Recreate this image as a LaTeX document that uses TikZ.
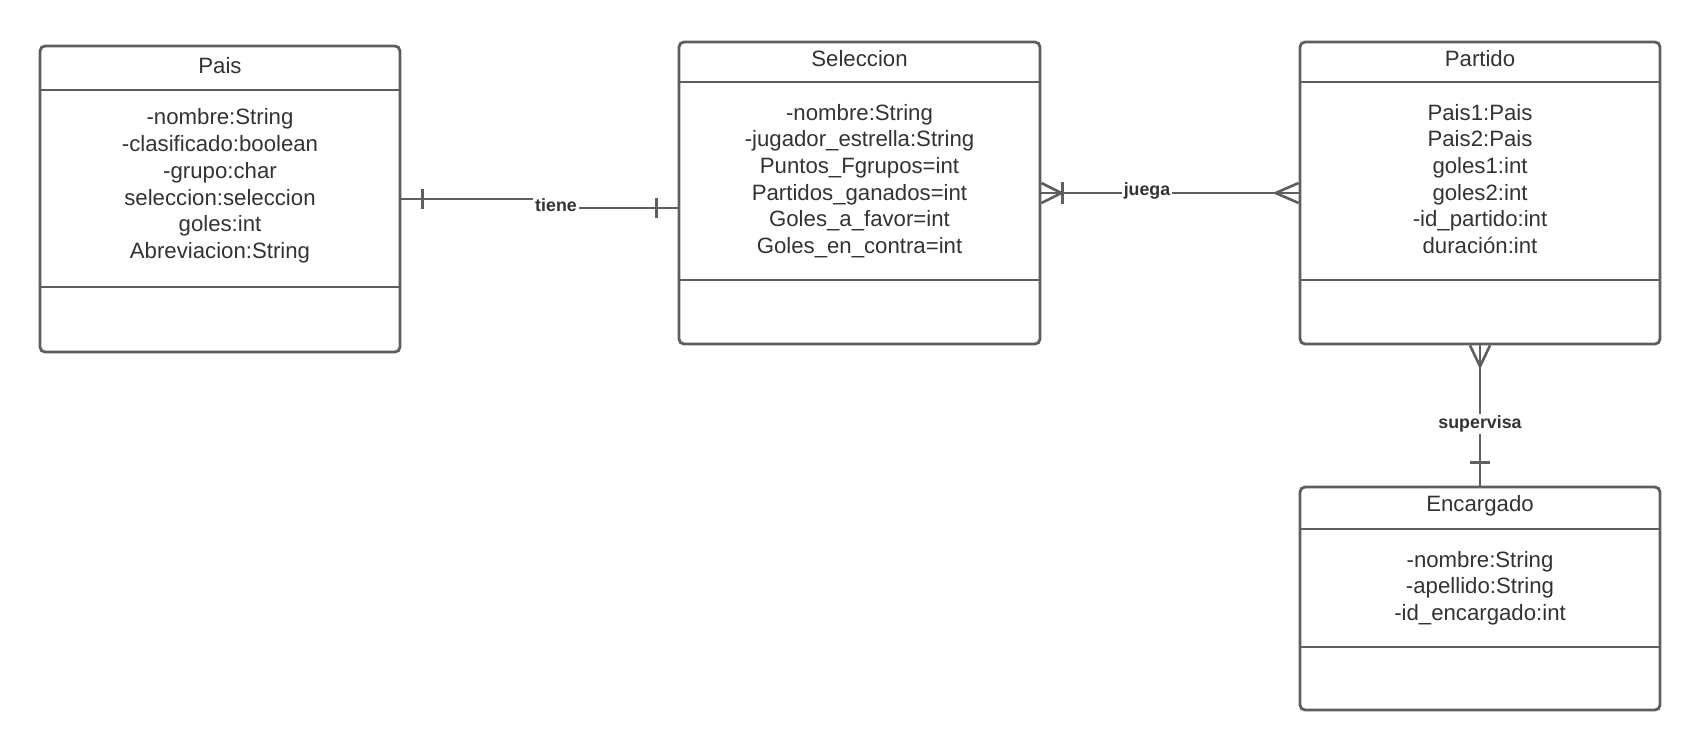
\documentclass[tikz,border=0pt]{standalone}
\usepackage{fontspec}
\setmainfont{Liberation Sans}
\usetikzlibrary{calc}
\definecolor{edge}{HTML}{5E5E5E}
\definecolor{ink}{HTML}{333333}
\begin{document}
\begin{tikzpicture}[x=0.5pt,y=-0.5pt,
  classbox/.style={draw=edge, line width=1.4pt, rounded corners=2.5pt, fill=white,
    inner sep=0pt, minimum width=180pt},
  divider/.style={draw=edge, line width=1.4pt},
  conn/.style={draw=edge, line width=1.3pt},
  titletext/.style={text=ink, font=\fontsize{11.1pt}{13.35pt}\selectfont, inner sep=0pt},
  attrtext/.style={text=ink, font=\fontsize{11.1pt}{13.35pt}\selectfont, align=center, inner sep=0pt},
  rellabel/.style={text=ink, font=\bfseries\fontsize{8.9pt}{10pt}\selectfont, fill=white, inner sep=1pt}]
\useasboundingbox (0,0) rectangle (1700,751);
\fill[white] (0,0) rectangle (1700,751);

% ---- class Pais ----
\node[classbox, minimum height=153pt] (pais) at (220,199) {};
\draw[divider] (pais.west |- 0,90) -- (pais.east |- 0,90);
\draw[divider] (pais.west |- 0,287) -- (pais.east |- 0,287);
\node[titletext] (paisT) at (220,66) {Pais};
\node[attrtext] (paisA) at (220,186) {-nombre:String\\-clasificado:boolean\\-grupo:char\\seleccion:seleccion\\goles:int\\Abreviacion:String};

% ---- class Seleccion ----
\node[classbox, minimum width=180.5pt, minimum height=151pt] (sel) at (859.5,193) {};
\draw[divider] (sel.west |- 0,82) -- (sel.east |- 0,82);
\draw[divider] (sel.west |- 0,280) -- (sel.east |- 0,280);
\node[titletext] (selT) at (859.5,59) {Seleccion};
\node[attrtext] (selA) at (859.5,181) {-nombre:String\\-jugador\_estrella:String\\Puntos\_Fgrupos=int\\Partidos\_ganados=int\\Goles\_a\_favor=int\\Goles\_en\_contra=int};

% ---- class Partido ----
\node[classbox, minimum height=151pt] (par) at (1480,193) {};
\draw[divider] (par.west |- 0,82) -- (par.east |- 0,82);
\draw[divider] (par.west |- 0,280) -- (par.east |- 0,280);
\node[titletext] (parT) at (1480,59) {Partido};
\node[attrtext] (parA) at (1480,179) {Pais1:Pais\\Pais2:Pais\\goles1:int\\goles2:int\\-id\_partido:int\\duración:int};

% ---- class Encargado ----
\node[classbox, minimum height=111.5pt] (enc) at (1480,598.5) {};
\draw[divider] (enc.west |- 0,529) -- (enc.east |- 0,529);
\draw[divider] (enc.west |- 0,647) -- (enc.east |- 0,647);
\node[titletext] (encT) at (1480,506) {Encargado};
\node[attrtext] (encA) at (1480,588) {-nombre:String\\-apellido:String\\-id\_encargado:int};

% ---- relation tiene: Pais (one) -- Seleccion (one) ----
\coordinate (tieneEnd) at ($(sel.west)+(0,15)$);
\draw[conn] (pais.east) -- ++(156,0) |- (tieneEnd);
\draw[conn] ($(pais.east)+(21,-10)$) -- ++(0,20);
\draw[conn] ($(tieneEnd)+(-21,-10)$) -- ++(0,20);
\node[rellabel] (tieneL) at (556,205) {tiene};

% ---- relation juega: Seleccion (one or many) -- Partido (many) ----
\draw[conn] (sel.east) -- (par.west);
\draw[conn] ($(sel.east)+(0,-10)$) -- ($(sel.east)+(20,0)$) -- ($(sel.east)+(0,10)$);
\draw[conn] ($(sel.east)+(21,-11)$) -- ++(0,22);
\draw[conn] ($(par.west)+(0,-10)$) -- ($(par.west)+(-23,0)$) -- ($(par.west)+(0,10)$);
\node[rellabel] (juegaL) at (1147,191) {juega};

% ---- relation supervisa: Partido (many) -- Encargado (one) ----
\draw[conn] (par.south) -- (enc.north);
\draw[conn] ($(par.south)+(-10,0)$) -- ($(par.south)+(0,21)$) -- ($(par.south)+(10,0)$);
\draw[conn] ($(enc.north)+(-10,-23)$) -- ++(20,0);
\node[rellabel] (supL) at (1480,424) {supervisa};
\end{tikzpicture}
\end{document}
